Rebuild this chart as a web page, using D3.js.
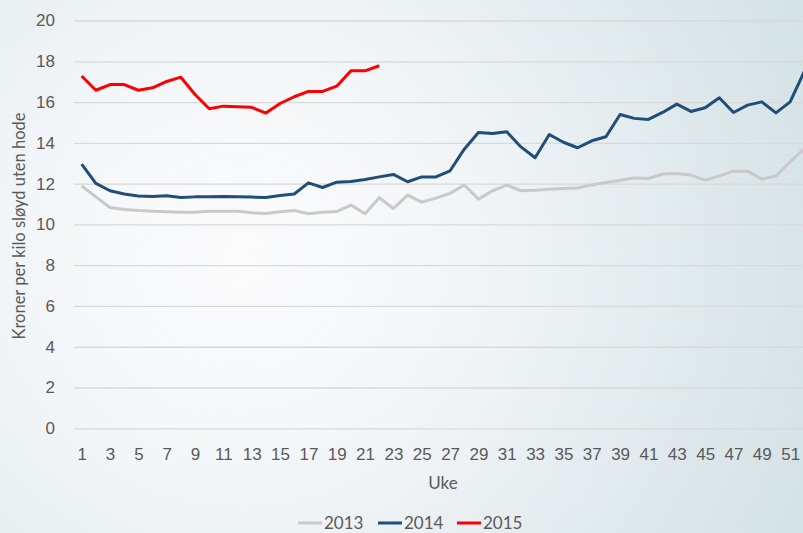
<!DOCTYPE html>
<html>
<head>
<meta charset="utf-8">
<script src="https://cdn.jsdelivr.net/npm/d3@7"></script>
<style>
  html, body { margin: 0; padding: 0; }
  body { width: 803px; height: 533px; overflow: hidden; }
  svg { display: block; font-family: Lato, "Open Sans", sans-serif; }
</style>
</head>
<body>
<svg id="chart"></svg>
<script>
// Uke 1-52
const weeks = d3.range(1, 53);

// Kroner per kilo
const values2013 = [11.88, 11.35, 10.83, 10.73, 10.68, 10.65, 10.62, 10.60, 10.60, 10.65,
  10.65, 10.65, 10.57, 10.54, 10.62, 10.68, 10.52, 10.60, 10.63, 10.95,
  10.52, 11.31, 10.78, 11.44, 11.09, 11.29, 11.52, 11.93, 11.24, 11.65,
  11.93, 11.65, 11.67, 11.72, 11.76, 11.79, 11.93, 12.06, 12.17, 12.28,
  12.25, 12.47, 12.50, 12.42, 12.17, 12.38, 12.61, 12.61, 12.22, 12.38,
  13.07, 13.72];

const values2014 = [12.96, 12.01, 11.65, 11.49, 11.39, 11.37, 11.40, 11.32, 11.35, 11.35,
  11.37, 11.35, 11.34, 11.32, 11.42, 11.49, 12.04, 11.81, 12.07, 12.10,
  12.20, 12.33, 12.45, 12.09, 12.33, 12.33, 12.63, 13.69, 14.51, 14.46,
  14.54, 13.80, 13.27, 14.41, 14.03, 13.76, 14.10, 14.30, 15.39, 15.20,
  15.15, 15.49, 15.90, 15.54, 15.72, 16.21, 15.49, 15.85, 16.01, 15.47,
  16.01, 17.50];

const values2015 = [17.28, 16.58, 16.86, 16.86, 16.58, 16.70, 17.01, 17.22, 16.37, 15.67,
  15.80, 15.77, 15.74, 15.46, 15.93, 16.26, 16.52, 16.52, 16.78, 17.53,
  17.53, 17.78];

const yTicks = d3.range(0, 21, 2);
const xTicks = weeks.filter(w => w % 2 === 1);

const series = [
  { name: '2013', values: values2013, color: '#c9c9c9' },
  { name: '2014', values: values2014, color: '#1f4e79' },
  { name: '2015', values: values2015, color: '#ff0000' }
];

const width = 803;
const height = 533;
const textColor = '#595959';

const svg = d3.select('#chart')
  .attr('width', width)
  .attr('height', height);

// background gradient, white in the middle turning blue-grey to the right
const defs = svg.append('defs');
const grad = defs.append('radialGradient')
  .attr('id', 'bg')
  .attr('gradientUnits', 'userSpaceOnUse')
  .attr('cx', 240).attr('cy', 260).attr('r', 620);
grad.append('stop').attr('offset', '0%').attr('stop-color', '#fbfbfc');
grad.append('stop').attr('offset', '35%').attr('stop-color', '#f3f6f8');
grad.append('stop').attr('offset', '100%').attr('stop-color', '#d3e1e5');

svg.append('rect')
  .attr('width', width)
  .attr('height', height)
  .attr('fill', 'url(#bg)');

const x = d3.scalePoint()
  .domain(weeks)
  .range([74.6, 811.4])
  .padding(0.5);

const y = d3.scaleLinear()
  .domain([0, 20])
  .range([428.3, 20.5]);

// gridlines + y labels
const yAxis = svg.append('g')
  .attr('transform', 'translate(74,0)')
  .call(d3.axisLeft(y).tickValues(yTicks).tickSize(-740).tickPadding(19));
yAxis.select('.domain').remove();
yAxis.selectAll('.tick line').attr('stroke', '#d9d9d9').attr('stroke-width', 1.3);
yAxis.selectAll('.tick text')
  .attr('fill', textColor)
  .style('font-size', '17px');

// x labels
const xAxis = svg.append('g')
  .attr('transform', 'translate(0,441)')
  .call(d3.axisBottom(x).tickValues(xTicks).tickSize(0).tickPadding(7));
xAxis.select('.domain').remove();
xAxis.selectAll('.tick text')
  .attr('fill', textColor)
  .style('font-size', '17px');

// axis titles
svg.append('text')
  .attr('x', 443)
  .attr('y', 489)
  .attr('text-anchor', 'middle')
  .attr('fill', textColor)
  .style('font-size', '17px')
  .text('Uke');

svg.append('text')
  .attr('transform', 'translate(25,226) rotate(-90)')
  .attr('text-anchor', 'middle')
  .attr('fill', textColor)
  .style('font-size', '16.5px')
  .text('Kroner per kilo sløyd uten hode');

// lines
const line = d3.line()
  .x((d, i) => x(weeks[i]))
  .y(d => y(d));

svg.selectAll('.year-line')
  .data(series)
  .enter().append('path')
    .attr('class', 'year-line')
    .attr('d', d => line(d.values))
    .attr('fill', 'none')
    .attr('stroke', d => d.color)
    .attr('stroke-width', 3)
    .attr('stroke-linejoin', 'round');

// legend
const legendX = [298, 378, 457];
const legend = svg.selectAll('.legend')
  .data(series)
  .enter().append('g')
    .attr('class', 'legend')
    .attr('transform', (d, i) => `translate(${legendX[i]},523)`);

legend.append('line')
  .attr('x1', 0).attr('x2', 24)
  .attr('stroke', d => d.color)
  .attr('stroke-width', 3);

legend.append('text')
  .attr('x', 26)
  .attr('y', 6)
  .attr('fill', textColor)
  .style('font-size', '17px')
  .text(d => d.name);
</script>
</body>
</html>
